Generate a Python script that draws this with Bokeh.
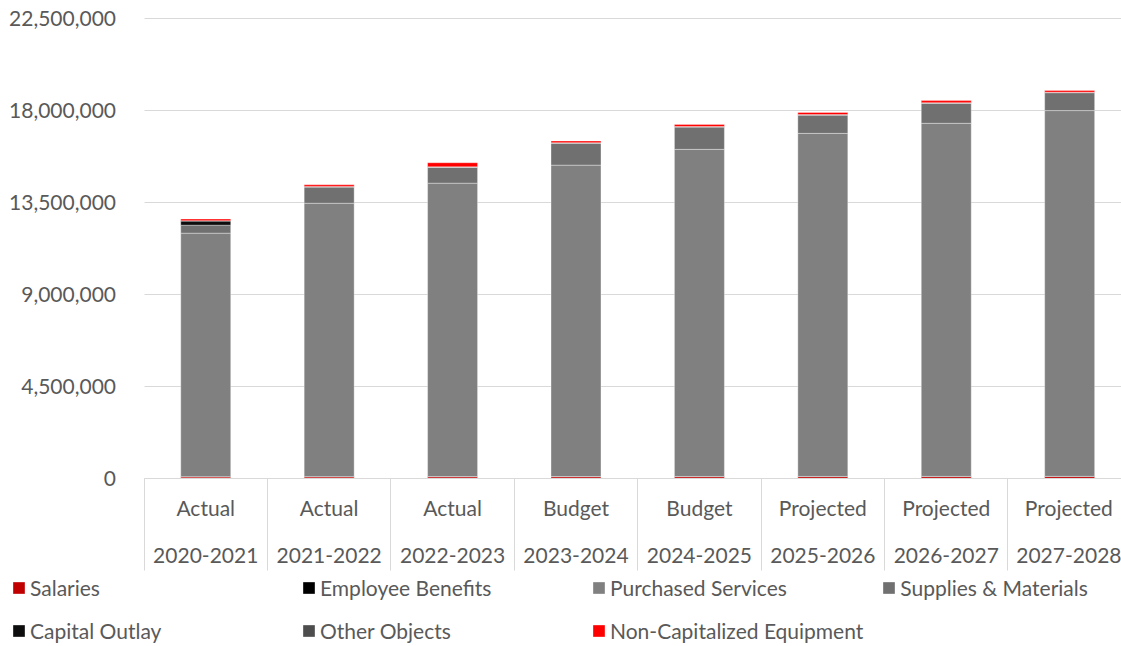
from bokeh.plotting import figure
from bokeh.models import (ColumnDataSource, Range1d, FixedTicker, Legend, LegendItem,
                          NumeralTickFormatter)
from bokeh.embed import file_html
from bokeh.resources import INLINE

# ---- data ----
periods = ["Actual", "Actual", "Actual", "Budget", "Budget", "Projected", "Projected", "Projected"]
years = ["2020-2021", "2021-2022", "2022-2023", "2023-2024", "2024-2025", "2025-2026", "2026-2027", "2027-2028"]

salaries = [75000, 78000, 80000, 82000, 84000, 86000, 88000, 90000]
employee_benefits = [15000, 15000, 15000, 15000, 15000, 15000, 15000, 15000]
purchased_services = [11910000, 13370000, 14350000, 15230000, 16000000, 16780000, 17270000, 17890000]
supplies_materials = [390000, 800000, 780000, 1080000, 1100000, 900000, 990000, 880000]
capital_outlay = [200000, 0, 0, 0, 0, 0, 0, 0]
other_objects = [20000, 20000, 20000, 20000, 20000, 20000, 20000, 20000]
non_cap_equipment = [80000, 80000, 200000, 80000, 100000, 100000, 100000, 80000]

series_names = ["Salaries", "Employee Benefits", "Purchased Services", "Supplies & Materials",
                "Capital Outlay", "Other Objects", "Non-Capitalized Equipment"]
series_values = [salaries, employee_benefits, purchased_services, supplies_materials,
                 capital_outlay, other_objects, non_cap_equipment]
colors = ["#C00000", "#000000", "#808080", "#707070", "#0D0D0D", "#4D4D4D", "#FF0000"]

y_ticks = [0, 4500000, 9000000, 13500000, 18000000, 22500000]

FONT = "Lato"
TXT = "#595959"
GRID = "#D9D9D9"

keys = ["s%d" % i for i in range(len(series_names))]
xs = [i + 0.5 for i in range(len(years))]
data = {"x": xs}
for k, v in zip(keys, series_values):
    data[k] = v
src = ColumnDataSource(data)

X_END = 7.92
p = figure(width=1121, height=646, output_backend="svg", toolbar_location=None,
           x_range=Range1d(-1.163, X_END), y_range=Range1d(-8218000, 23380000),
           min_border_left=0, min_border_right=0, min_border_top=0, min_border_bottom=0)
p.outline_line_color = None
p.background_fill_color = "white"
p.border_fill_color = "white"

renderers = p.vbar_stack(keys, x="x", width=0.405, source=src, fill_color=colors,
                         line_color="white", line_alpha=0.35, line_width=1)

# y axis (drawn at x = 0 inside the frame)
p.yaxis.fixed_location = 0
p.yaxis.ticker = FixedTicker(ticks=y_ticks)
p.yaxis.formatter = NumeralTickFormatter(format="0,0")
p.yaxis.axis_line_color = None
p.yaxis.major_tick_line_color = None
p.yaxis.minor_tick_line_color = None
p.yaxis.major_tick_out = 0
p.yaxis.major_tick_in = 0
p.yaxis.major_label_standoff = 28
p.yaxis.major_label_text_font = FONT
p.yaxis.major_label_text_font_size = "21px"
p.yaxis.major_label_text_color = TXT
p.ygrid.grid_line_color = GRID
p.ygrid.ticker = FixedTicker(ticks=y_ticks)
p.ygrid.cross_bounds = (0, X_END)
p.xgrid.visible = False

# x axis (at y = 0; two-line category labels, separators via minor ticks)
p.xaxis.fixed_location = 0
p.xaxis.bounds = (0, X_END)
p.xaxis.ticker = FixedTicker(ticks=xs, minor_ticks=list(range(len(years) + 1)))
p.xaxis.major_label_overrides = {x: "%s\n%s" % (a, b) for x, a, b in zip(xs, periods, years)}
p.xaxis.axis_line_color = GRID
p.xaxis.major_tick_out = 0
p.xaxis.major_tick_in = 0
p.xaxis.major_tick_line_color = None
p.xaxis.minor_tick_in = 0
p.xaxis.minor_tick_out = 92
p.xaxis.minor_tick_line_color = GRID
p.xaxis.major_label_standoff = -75
p.xaxis.major_label_text_font = FONT
p.xaxis.major_label_text_font_size = "21px"
p.xaxis.major_label_text_color = TXT
p.xaxis.major_label_text_line_height = 1.85

items = [LegendItem(label=n, renderers=[r]) for n, r in zip(series_names, renderers)]
legend = Legend(items=items, ncols=4, orientation="horizontal", location=(11, 3),
                glyph_width=15, glyph_height=15, label_standoff=4, spacing=18,
                padding=0, margin=0, border_line_color=None, background_fill_alpha=0,
                label_text_font=FONT, label_text_font_size="21px", label_text_color=TXT,
                label_height=22, label_width=253)
p.add_layout(legend)

open("out.html", "w").write(file_html(p, INLINE))
